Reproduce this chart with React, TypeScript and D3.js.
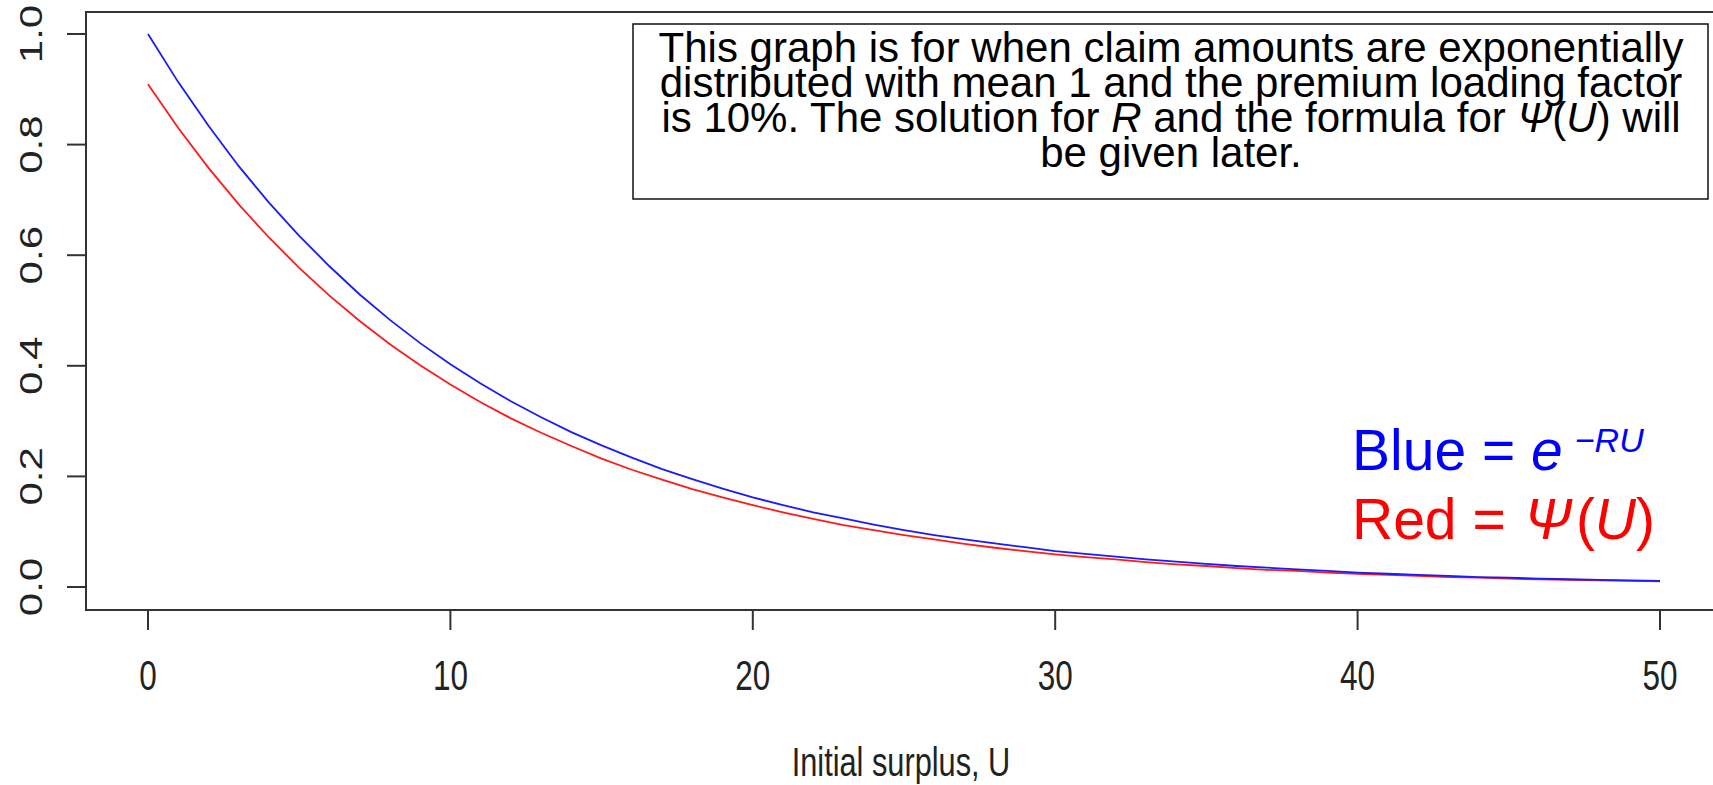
import React from "react";
import * as d3 from "d3";

const surplus = [
  0, 1, 2, 3, 4, 5, 6, 7, 8, 9, 10, 11, 12, 13, 14, 15, 16, 17, 18, 19, 20,
  21, 22, 23, 24, 25, 26, 27, 28, 29, 30, 31, 32, 33, 34, 35, 36, 37, 38, 39,
  40, 41, 42, 43, 44, 45, 46, 47, 48, 49, 50,
];
const blueValues = [
  1.0, 0.913, 0.834, 0.761, 0.695, 0.635, 0.58, 0.529, 0.483, 0.441, 0.403,
  0.368, 0.336, 0.307, 0.28, 0.256, 0.234, 0.213, 0.195, 0.178, 0.162, 0.148,
  0.135, 0.124, 0.113, 0.103, 0.094, 0.086, 0.079, 0.072, 0.065, 0.06, 0.055,
  0.05, 0.046, 0.042, 0.038, 0.035, 0.032, 0.029, 0.026, 0.024, 0.022, 0.02,
  0.018, 0.017, 0.015, 0.014, 0.013, 0.012, 0.011,
];
const redValues = [
  0.909, 0.83, 0.758, 0.692, 0.632, 0.577, 0.527, 0.481, 0.439, 0.401, 0.366,
  0.334, 0.305, 0.279, 0.255, 0.232, 0.212, 0.194, 0.177, 0.162, 0.148, 0.135,
  0.123, 0.112, 0.103, 0.094, 0.086, 0.078, 0.071, 0.065, 0.059, 0.054, 0.05,
  0.045, 0.041, 0.038, 0.034, 0.031, 0.029, 0.026, 0.024, 0.022, 0.02, 0.018,
  0.017, 0.015, 0.014, 0.013, 0.012, 0.011, 0.01,
];
const xTicks = [0, 10, 20, 30, 40, 50];
const yTicks = [0, 0.2, 0.4, 0.6, 0.8, 1.0];
const xLabel = "Initial surplus, U";

const W = 1713;
const H = 785;
const FONT = "'Liberation Sans', Arial, Helvetica, sans-serif";
const AXIS = "#333";

export default function App() {
  const x = d3.scaleLinear().domain([0, 50]).range([148, 1660]);
  const y = d3.scaleLinear().domain([0, 1]).range([587, 34]);
  const box = { left: 86, top: 12, right: 1722, bottom: 610 };

  const line = d3
    .line<number>()
    .x((_, i) => x(surplus[i]))
    .y((v) => y(v));

  const squeeze = 0.75;
  const cx = 1171;

  return (
    <svg
      width={W}
      height={H}
      style={{ position: "absolute", left: 0, top: 0, background: "#fff" }}
      fontFamily={FONT}
    >
      <rect x={0} y={0} width={W} height={H} fill="#fff" />
      {/* curves */}
      <path d={line(redValues) || ""} fill="none" stroke="#ff1a1a" strokeWidth={1.8} />
      <path d={line(blueValues) || ""} fill="none" stroke="#1a1aff" strokeWidth={1.8} />

      {/* plot frame */}
      <rect
        x={box.left}
        y={box.top}
        width={box.right - box.left}
        height={box.bottom - box.top}
        fill="none"
        stroke={AXIS}
        strokeWidth={2}
      />

      {/* y axis ticks and labels */}
      {yTicks.map((t) => (
        <g key={"y" + t}>
          <line x1={67} x2={box.left} y1={y(t)} y2={y(t)} stroke={AXIS} strokeWidth={2} />
          <text
            transform={`translate(42,${y(t)}) scale(${squeeze},1) rotate(-90)`}
            textAnchor="middle"
            fontSize={42}
            fill="#222"
          >
            {t.toFixed(1)}
          </text>
        </g>
      ))}

      {/* x axis ticks and labels */}
      {xTicks.map((t) => (
        <g key={"x" + t}>
          <line x1={x(t)} x2={x(t)} y1={box.bottom} y2={box.bottom + 20} stroke={AXIS} strokeWidth={2} />
          <text
            transform={`translate(${x(t)},690) scale(${squeeze},1)`}
            textAnchor="middle"
            fontSize={42}
            fill="#222"
          >
            {t}
          </text>
        </g>
      ))}

      <text
        transform={`translate(901,776) scale(${squeeze},1)`}
        textAnchor="middle"
        fontSize={41}
        fill="#222"
      >
        {xLabel}
      </text>

      {/* annotation box */}
      <rect x={633} y={24} width={1075} height={175} fill="#fff" stroke="#111" strokeWidth={1.5} />
      <text fontSize={42} fill="#000" textAnchor="middle" x={cx} y={62}>
        <tspan x={cx} y={62}>This graph is for when claim amounts are exponentially</tspan>
        <tspan x={cx} dy={35}>distributed with mean 1 and the premium loading factor</tspan>
        <tspan x={cx} dy={35}>
          is 10%. The solution for <tspan fontStyle="italic">R</tspan> and the formula for{" "}
          <tspan fontStyle="italic">Ψ</tspan>(<tspan fontStyle="italic">U</tspan>) will
        </tspan>
        <tspan x={cx} dy={35}>be given later.</tspan>
      </text>

      {/* legend text */}
      <text x={1352} y={470} fontSize={57} fill="#0000ff">
        Blue = <tspan fontStyle="italic">e</tspan>
        <tspan fontStyle="italic" fontSize={34} dx={12} dy={-18}>
          −RU
        </tspan>
      </text>
      <text x={1352} y={539} fontSize={57} fill="#ff0000">
        Red = <tspan fontStyle="italic" dx={3}>Ψ</tspan>
        <tspan dx={4}>(</tspan>
        <tspan fontStyle="italic">U</tspan>)
      </text>
    </svg>
  );
}
